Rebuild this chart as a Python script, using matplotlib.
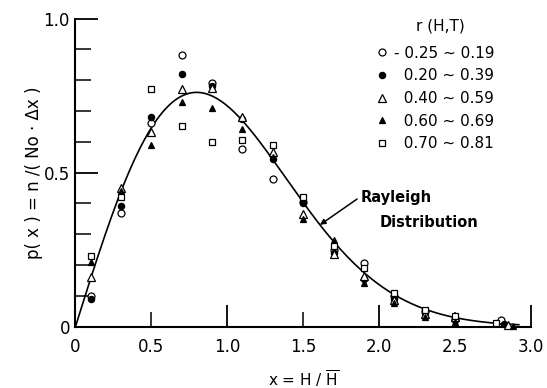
import numpy as np
import matplotlib
matplotlib.use("Agg")
import matplotlib.pyplot as plt
from matplotlib.lines import Line2D

plt.rcParams['font.family'] = ['DejaVu Sans']
plt.rcParams['mathtext.fontset'] = 'dejavusans'

# ---- data ----
x_bins = [0.1, 0.3, 0.5, 0.7, 0.9, 1.1, 1.3, 1.5, 1.7, 1.9, 2.1, 2.3, 2.5]
legend_title = "r (H,T)"
series_labels = ["- 0.25 ~ 0.19", "  0.20 ~ 0.39", "  0.40 ~ 0.59",
                 "  0.60 ~ 0.69", "  0.70 ~ 0.81"]
last_x = [2.80, 2.82, 2.85, 2.88, 2.77]
p_open_circle = [0.10, 0.37, 0.66, 0.88, 0.79, 0.575, 0.48, 0.405, 0.25, 0.205, 0.10, 0.05, 0.025, 0.02]
p_filled_circle = [0.09, 0.39, 0.68, 0.82, 0.78, 0.675, 0.545, 0.40, 0.24, 0.155, 0.09, 0.045, 0.02, 0.008]
p_open_tri = [0.16, 0.45, 0.63, 0.77, 0.775, 0.68, 0.565, 0.365, 0.235, 0.165, 0.085, 0.04, 0.03, 0.005]
p_filled_tri = [0.21, 0.44, 0.59, 0.73, 0.71, 0.64, 0.55, 0.35, 0.28, 0.14, 0.075, 0.03, 0.015, 0.003]
p_square = [0.23, 0.42, 0.77, 0.65, 0.60, 0.605, 0.59, 0.42, 0.26, 0.19, 0.11, 0.055, 0.035, 0.01]

series_values = [p_open_circle, p_filled_circle, p_open_tri, p_filled_tri, p_square]
styles = [dict(marker='o', mfc='white', mec='black', ms=5, mew=0.9),
          dict(marker='o', mfc='black', mec='black', ms=4.5, mew=0.9),
          dict(marker='^', mfc='white', mec='black', ms=5.5, mew=0.9),
          dict(marker='^', mfc='black', mec='black', ms=5, mew=0.9),
          dict(marker='s', mfc='white', mec='black', ms=5, mew=0.9)]

# theoretical Rayleigh curve
xc = np.linspace(0, 2.92, 300)
pc = (np.pi / 2) * xc * np.exp(-np.pi * xc ** 2 / 4)

fig = plt.figure(figsize=(5.47, 3.88), dpi=100)
ax = fig.add_axes([0.138, 0.1585, 0.8327, 0.7938])

ax.plot(xc, pc, color='black', lw=1.2, zorder=2)

handles = []
for vals, lx, st, lab in zip(series_values, last_x, styles, series_labels):
    xs = x_bins + [lx]
    ax.plot(xs, vals, ls='none', zorder=3, clip_on=False, **st)
    handles.append(Line2D([], [], ls='none', label=lab, **st))

ax.set_xlim(0, 3.0)
ax.set_ylim(0, 1.0)
for s in ['top', 'right']:
    ax.spines[s].set_visible(False)
for s in ['left', 'bottom']:
    ax.spines[s].set_linewidth(1.5)

ax.set_xticks([0, 1.0, 2.0, 3.0], ["0", "1.0", "2.0", "3.0"])
ax.set_xticks([0.5, 1.5, 2.5], ["0.5", "1.5", "2.5"], minor=True)
ax.set_yticks([0, 0.5, 1.0], ["0", "0.5", "1.0"])
ax.set_yticks(np.arange(0.1, 1.0, 0.1), minor=True)

ax.tick_params(axis='x', which='major', direction='in', length=16, width=1.3, pad=8, labelsize=12)
ax.tick_params(axis='x', which='minor', direction='in', length=11, width=1.1, pad=8, labelsize=12)
ax.tick_params(axis='y', which='major', direction='in', length=16.5, width=1.3, pad=4, labelsize=12)
ax.tick_params(axis='y', which='minor', direction='in', length=11.5, width=1.1)

ax.set_xlabel(r"x = H / $\overline{\mathrm{H}}$", fontsize=11, labelpad=9)
ax.set_ylabel("p( x ) = n /( No · Δx )", fontsize=12, labelpad=0.5)

fig.text(440 / 547, 1 - 26 / 388, legend_title, fontsize=11, ha='center', va='center')
leg = ax.legend(handles=handles, loc='upper left',
                bbox_to_anchor=(0.668, 0.910), bbox_transform=fig.transFigure,
                frameon=False, fontsize=11,
                handlelength=0.8, handletextpad=0.35, labelspacing=0.5,
                borderpad=0.2)

ax.annotate("", xy=(1.61, 0.33), xytext=(1.855, 0.414),
            arrowprops=dict(arrowstyle='-|>', color='black', lw=1.1,
                            mutation_scale=8, shrinkA=0, shrinkB=0))
ax.text(1.875, 0.42, "Rayleigh", fontsize=10.5, fontweight='bold', va='center', ha='left')
ax.text(2.0, 0.337, "Distribution", fontsize=10.5, fontweight='bold', va='center', ha='left')

fig.savefig("out.png", dpi=100)
